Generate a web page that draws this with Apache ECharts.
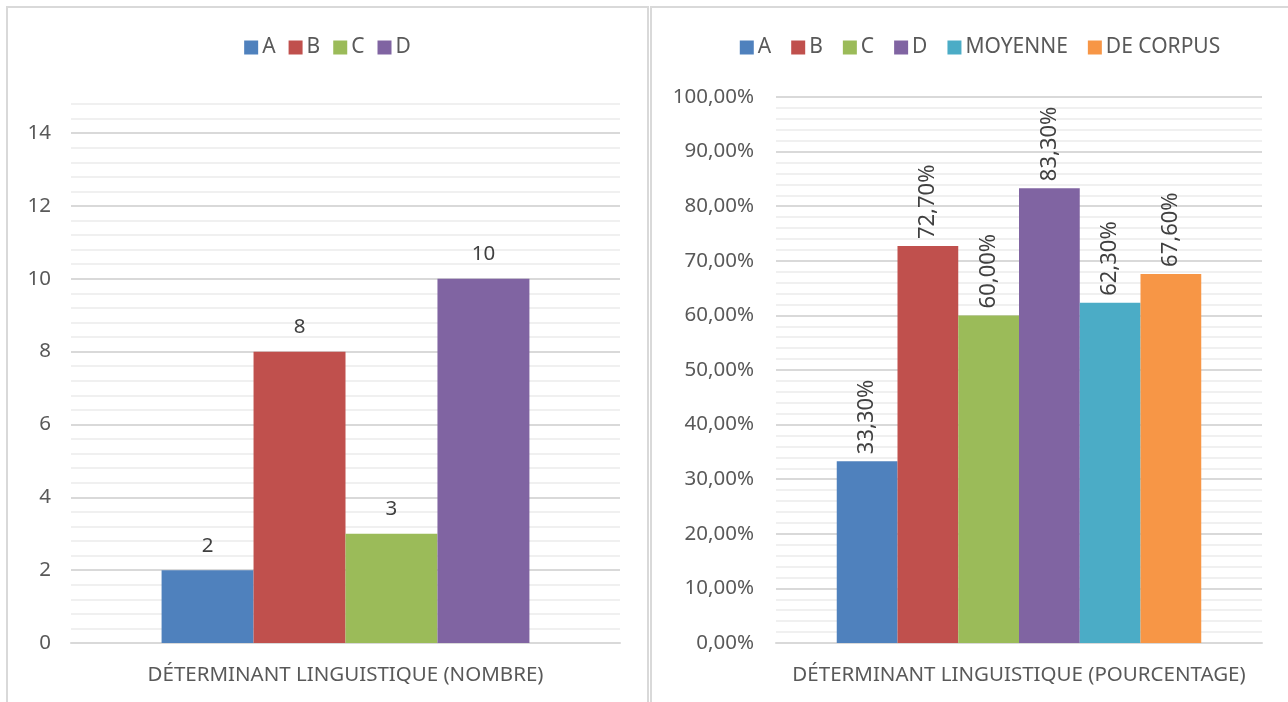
<!DOCTYPE html>
<html lang="fr">
<head>
    <meta charset="UTF-8">
    <title>Déterminant linguistique</title>
    <script src="https://cdn.jsdelivr.net/npm/echarts@6/dist/echarts.min.js"></script>
    <style>
        body { margin: 0; width: 1288px; height: 702px; overflow: hidden; background: #fff; position: relative; }
        .panel { position: absolute; top: 6px; height: 720px; border: 2px solid #d9d9d9; box-sizing: border-box; }
        #left { left: 6px; width: 643px; }
        #right { left: 650px; width: 660px; }
    </style>
</head>
<body>
<div class="panel" id="left"></div>
<div class="panel" id="right"></div>
<script>
    // data
    var leftNames = ['A', 'B', 'C', 'D'];
    var leftValues = [2, 8, 3, 10];
    var leftCategory = ['DÉTERMINANT LINGUISTIQUE (NOMBRE)'];

    var rightNames = ['A', 'B', 'C', 'D', 'MOYENNE', 'DE CORPUS'];
    var rightValues = [33.3, 72.7, 60.0, 83.3, 62.3, 67.6];
    var rightCategory = ['DÉTERMINANT LINGUISTIQUE (POURCENTAGE)'];

    var colors = ['#4f81bd', '#c0504d', '#9bbb59', '#8064a2', '#4bacc6', '#f79646'];
    var font = 'Noto Sans';
    var txt = '#595959';
    var major = '#d9d9d9', minor = '#f0f0f0';
    var fs = 20.5;

    function isMajor(v, step) {
        return Math.abs(v / step - Math.round(v / step)) < 1e-6;
    }

    function legendOf(names, gap) {
        return {
            top: 24, left: 'center', itemWidth: 14, itemHeight: 14, itemGap: gap,
            icon: 'rect',
            textStyle: { color: txt, fontSize: 21, fontFamily: font, padding: [0, 0, 0, -1] },
            data: names
        };
    }

    // left chart
    var leftChart = echarts.init(document.getElementById('left'));
    leftChart.setOption({
        animation: false,
        color: colors,
        legend: legendOf(leftNames, 13),
        grid: { left: 63, width: 549, top: 96, height: 539 },
        xAxis: {
            type: 'category', data: leftCategory,
            axisTick: { show: false },
            axisLine: { lineStyle: { color: major, width: 2 } },
            axisLabel: { color: txt, fontSize: fs, fontFamily: font, margin: 22 }
        },
        yAxis: {
            type: 'value', min: 0, max: 14.8, interval: 0.4,
            axisLabel: {
                color: txt, fontSize: fs, fontFamily: font, margin: 20,
                formatter: function (v) { return isMajor(v, 2) ? String(Math.round(v)) : ''; }
            },
            splitLine: { lineStyle: { color: [major, minor, minor, minor, minor], width: 2 } }
        },
        series: leftNames.map(function (n, i) {
            return {
                name: n, type: 'bar', barGap: '0%', barCategoryGap: '33%',
                data: [leftValues[i]],
                label: { show: true, position: 'top', distance: 14, color: '#404040', fontSize: fs, fontFamily: font }
            };
        })
    });

    // right chart
    var rightChart = echarts.init(document.getElementById('right'));
    rightChart.setOption({
        animation: false,
        color: colors,
        legend: legendOf(rightNames, 20),
        grid: { left: 124, width: 486, top: 89, height: 546 },
        xAxis: {
            type: 'category', data: rightCategory,
            axisTick: { show: false },
            axisLine: { lineStyle: { color: major, width: 2 } },
            axisLabel: { color: txt, fontSize: fs, fontFamily: font, margin: 22 }
        },
        yAxis: {
            type: 'value', min: 0, max: 100, interval: 2,
            axisLabel: {
                color: txt, fontSize: fs, fontFamily: font, margin: 22,
                formatter: function (v) { return isMajor(v, 10) ? v.toFixed(2).replace('.', ',') + '%' : ''; }
            },
            splitLine: { lineStyle: { color: [major, minor, minor, minor, minor], width: 2 } }
        },
        series: rightNames.map(function (n, i) {
            return {
                name: n, type: 'bar', barGap: '0%', barCategoryGap: '25%',
                data: [rightValues[i]],
                label: {
                    show: true, position: 'top', rotate: 90, align: 'left', verticalAlign: 'middle',
                    distance: 7, color: '#404040', fontSize: 22, fontFamily: font,
                    formatter: function (p) { return p.value.toFixed(2).replace('.', ',') + '%'; }
                }
            };
        })
    });
</script>
</body>
</html>
